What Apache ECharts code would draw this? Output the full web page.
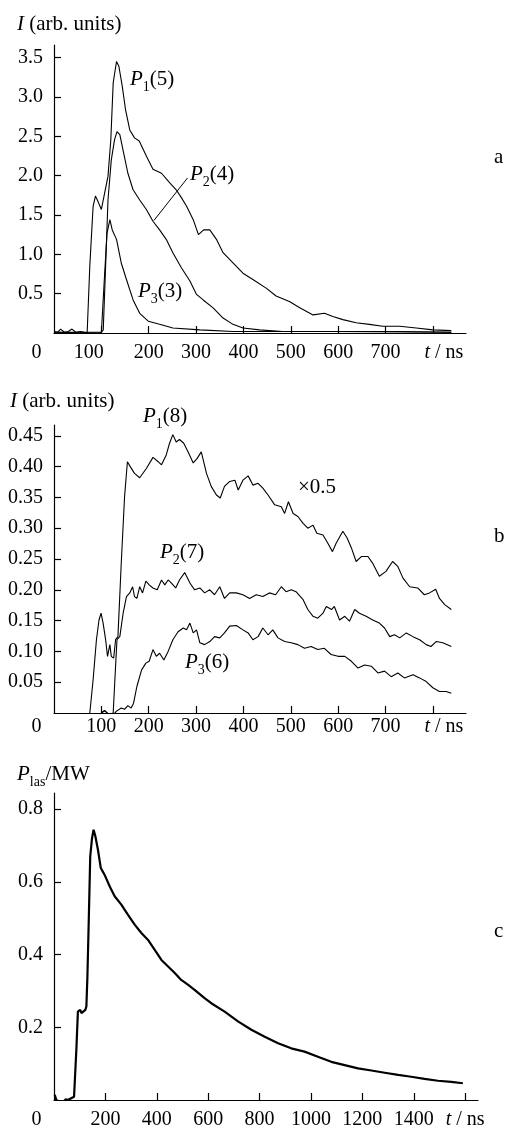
<!DOCTYPE html>
<html>
<head>
<meta charset="utf-8">
<script src="https://cdn.jsdelivr.net/npm/echarts@6/dist/echarts.min.js"></script>
<style>
  html, body { margin: 0; padding: 0; background: #fff; }
  #chart { width: 506px; height: 1132px; }
</style>
</head>
<body>
<div id="chart"></div>
<script>
'use strict';

// panel a: [t (ns), I (arb. units)]
var p1A = [[0, 0.02], [8, 0.01], [14, 0.05], [22, 0.01], [30, 0.02], [38, 0.05], [46, 0.01], [56, 0.02], [64, 0.01], [70, 0.0],
    [75.6, 0.85], [82.6, 1.61], [87.5, 1.74], [93, 1.67], [100, 1.57], [107, 1.78], [114, 1.99], [120, 2.46], [125, 3.18],
    [132, 3.45], [137, 3.39], [144, 3.14], [151, 2.84], [160, 2.58], [170, 2.48], [180, 2.44], [195, 2.25], [209, 2.08],
    [227, 2.03], [244, 1.91], [258, 1.82], [269, 1.72], [280, 1.61], [294, 1.44], [305, 1.25], [316, 1.31], [329, 1.31],
    [343, 1.19], [357, 1.02], [378, 0.89], [399, 0.76], [420, 0.68], [448, 0.57], [469, 0.47], [497, 0.40], [519, 0.32],
    [547, 0.23], [571, 0.25], [589, 0.21], [610, 0.17], [638, 0.13], [666, 0.11], [694, 0.085], [730, 0.085], [765, 0.064],
    [800, 0.04], [839, 0.03]];
var p2A = [[0, 0.01], [50, 0.01], [100, 0.01], [104, 0.04], [109, 0.85], [114, 1.69], [121, 2.2], [128, 2.46], [133, 2.56],
    [139, 2.52], [147, 2.29], [156, 2.03], [167, 1.82], [181, 1.69], [195, 1.57], [209, 1.42], [223, 1.31], [237, 1.19],
    [251, 1.02], [269, 0.83], [287, 0.66], [301, 0.49], [315, 0.42], [336, 0.32], [357, 0.19], [378, 0.11], [399, 0.064],
    [434, 0.04], [483, 0.02], [589, 0.02], [730, 0.02], [839, 0.01]];
var p3A = [[0, 0.01], [100, 0.0], [107, 0.76], [112, 1.27], [118, 1.44], [123, 1.31], [132, 1.19], [142, 0.89], [153, 0.68],
    [167, 0.42], [181, 0.25], [199, 0.15], [223, 0.11], [251, 0.064], [308, 0.04], [378, 0.02], [448, 0.02], [589, 0.02],
    [839, 0.01]];
var leaderA = [[211, 1.43], [282, 1.97]];

// panel b
var p1B = [[75.6, 0], [82.6, 0.054], [89.6, 0.119], [95, 0.151], [99.4, 0.162], [103.7, 0.146], [109, 0.119], [113, 0.092],
    [118, 0.111], [121, 0.092], [126, 0.089], [130, 0.119], [135, 0.124], [142, 0.243], [149, 0.351], [155, 0.408],
    [161, 0.40], [170, 0.389], [181, 0.382], [195, 0.397], [209, 0.415], [220, 0.408], [227, 0.403], [237, 0.419],
    [244, 0.438], [251, 0.452], [258, 0.44], [265, 0.444], [274, 0.438], [283, 0.424], [294, 0.406], [302, 0.413],
    [311, 0.424], [322, 0.389], [332, 0.368], [343, 0.354], [351, 0.349], [360, 0.368], [371, 0.376], [382, 0.378],
    [389, 0.362], [399, 0.378], [410, 0.385], [420, 0.370], [431, 0.373], [441, 0.365], [452, 0.354], [466, 0.338],
    [480, 0.335], [487, 0.324], [495, 0.343], [505, 0.324], [515, 0.319], [526, 0.308], [536, 0.30], [547, 0.305],
    [555, 0.292], [568, 0.289], [578, 0.276], [588, 0.262], [596, 0.276], [610, 0.295], [619, 0.284], [628, 0.268],
    [638, 0.246], [649, 0.254], [663, 0.254], [673, 0.243], [687, 0.222], [701, 0.23], [715, 0.246], [726, 0.238],
    [737, 0.219], [751, 0.205], [768, 0.203], [782, 0.192], [793, 0.195], [806, 0.201], [814, 0.186], [825, 0.176],
    [839, 0.168]];
var p2B = [[100, 0.0], [107, 0.004], [115, -0.002], [125, 0], [130, 0.076], [133, 0.119], [139, 0.124], [146, 0.162],
    [153, 0.189], [160, 0.195], [166, 0.205], [170, 0.189], [175, 0.186], [181, 0.205], [187, 0.195], [194, 0.214],
    [201, 0.208], [209, 0.203], [218, 0.20], [227, 0.216], [234, 0.208], [241, 0.216], [248, 0.211], [257, 0.203],
    [265, 0.216], [276, 0.228], [287, 0.211], [297, 0.20], [308, 0.203], [318, 0.195], [329, 0.20], [339, 0.192],
    [350, 0.205], [360, 0.186], [371, 0.195], [385, 0.195], [399, 0.192], [413, 0.186], [427, 0.192], [441, 0.189],
    [455, 0.195], [468, 0.192], [480, 0.205], [490, 0.197], [501, 0.20], [511, 0.197], [526, 0.184], [536, 0.168],
    [547, 0.157], [557, 0.154], [568, 0.162], [575, 0.173], [586, 0.168], [592, 0.173], [603, 0.151], [614, 0.157],
    [624, 0.149], [635, 0.168], [645, 0.162], [659, 0.157], [673, 0.151], [687, 0.146], [698, 0.138], [709, 0.124],
    [719, 0.127], [730, 0.122], [744, 0.13], [758, 0.124], [772, 0.119], [786, 0.111], [796, 0.108], [807, 0.116],
    [821, 0.114], [839, 0.108]];
var p3B = [[100, 0.0], [107, 0.004], [115, -0.002], [125, -0.003], [132, 0.003], [142, 0.008], [149, 0.006], [156, 0.012],
    [163, 0.008], [168, 0.016], [175, 0.043], [185, 0.07], [194, 0.081], [201, 0.084], [209, 0.103], [216, 0.092],
    [223, 0.097], [232, 0.086], [241, 0.10], [251, 0.119], [262, 0.132], [273, 0.138], [280, 0.135], [287, 0.146],
    [294, 0.13], [301, 0.135], [308, 0.114], [318, 0.111], [329, 0.116], [339, 0.124], [350, 0.122], [360, 0.13],
    [371, 0.141], [385, 0.142], [399, 0.135], [410, 0.13], [420, 0.119], [431, 0.124], [441, 0.138], [452, 0.127],
    [462, 0.135], [473, 0.122], [487, 0.116], [501, 0.114], [515, 0.111], [529, 0.105], [543, 0.108], [557, 0.103],
    [571, 0.105], [585, 0.095], [600, 0.092], [614, 0.092], [628, 0.084], [642, 0.073], [656, 0.078], [670, 0.076],
    [684, 0.065], [698, 0.068], [712, 0.059], [726, 0.065], [740, 0.057], [758, 0.062], [772, 0.057], [786, 0.051],
    [800, 0.041], [814, 0.035], [828, 0.035], [839, 0.032]];

// panel c: [t (ns), P_las (MW)]
var pLas = [[3, 0.014], [9, 0], [20, -0.004], [35, -0.008], [45, 0.002], [54, 0], [67, 0.005], [78, 0.009], [87, 0.138],
    [93, 0.243], [102, 0.248], [107, 0.239], [113, 0.234], [122, 0.248], [126, 0.257], [130, 0.339], [135, 0.486],
    [141, 0.67], [148, 0.72], [154, 0.743], [161, 0.725], [171, 0.688], [182, 0.638], [197, 0.619], [217, 0.587],
    [236, 0.56], [262, 0.537], [288, 0.509], [314, 0.482], [340, 0.459], [366, 0.44], [392, 0.413], [418, 0.385],
    [444, 0.367], [470, 0.349], [495, 0.33], [521, 0.317], [547, 0.303], [586, 0.28], [612, 0.266], [664, 0.243],
    [716, 0.216], [768, 0.193], [820, 0.174], [872, 0.156], [923, 0.142], [975, 0.133], [1027, 0.119], [1079, 0.105],
    [1131, 0.096], [1183, 0.087], [1235, 0.081], [1287, 0.075], [1339, 0.069], [1390, 0.064], [1442, 0.058],
    [1494, 0.053], [1546, 0.05], [1591, 0.046]];

// ticks
var xTicksAB = [100, 200, 300, 400, 500, 600, 700, 800];
var xLabelsAB = [0, 100, 200, 300, 400, 500, 600, 700, 800];
var yTicksA = [0.5, 1.0, 1.5, 2.0, 2.5, 3.0, 3.5];
var yTicksB = [0.05, 0.10, 0.15, 0.20, 0.25, 0.30, 0.35, 0.40, 0.45];
var xTicksC = [200, 400, 600, 800, 1000, 1200, 1400, 1600];
var xLabelsC = [0, 200, 400, 600, 800, 1000, 1200, 1400, 1600];
var yTicksC = [0.2, 0.4, 0.6, 0.8];

var FONT = '"Liberation Serif", "DejaVu Serif", serif';
var chart = echarts.init(document.getElementById('chart'), null, { renderer: 'canvas' });

function tok(size, extra) {
    var s = { fontFamily: FONT, fontSize: size, color: '#000' };
    for (var k in extra) s[k] = extra[k];
    return s;
}

var tickRich = {
    n: tok(20, {}),
    it: tok(20, { fontStyle: 'italic' }),
    o: tok(20, { padding: [0, 35, 0, 0] }),
    h: tok(20, { padding: [0, 25, 0, 0] }),
    ui: tok(20, { fontStyle: 'italic', padding: [0, 0, 0, 22] })
};

function xAxisOf(idx, max, ticks, labels, margin, fmt) {
    return {
        type: 'value', gridIndex: idx, min: 0, max: max,
        axisLine: { lineStyle: { color: '#000', width: 1.2 } },
        axisTick: { inside: true, length: 7, customValues: ticks, lineStyle: { color: '#000', width: 1.2 } },
        axisLabel: { customValues: labels, margin: margin, formatter: fmt, rich: tickRich, fontFamily: FONT, fontSize: 20, color: '#000' },
        splitLine: { show: false }
    };
}
function yAxisOf(idx, max, ticks, fmt) {
    return {
        type: 'value', gridIndex: idx, min: 0, max: max,
        axisLine: { show: true, lineStyle: { color: '#000', width: 1.2 } },
        axisTick: { show: true, inside: true, length: 7, customValues: ticks, lineStyle: { color: '#000', width: 1.2 } },
        axisLabel: { customValues: ticks, margin: 11, formatter: fmt, fontFamily: FONT, fontSize: 20, color: '#000' },
        splitLine: { show: false }
    };
}

function fmtA(v) {
    if (v === 0) return '{o|0}';
    if (v === 100) return '{h|100}';
    if (v === 800) return '{ui|t}{n| / ns}';
    return '{n|' + v + '}';
}
function fmtB(v) {
    if (v === 0) return '{o|0}';
    if (v === 800) return '{ui|t}{n| / ns}';
    return '{n|' + v + '}';
}
function fmtC(v) {
    if (v === 0) return '{o|0}';
    if (v === 1600) return '{it|t}{n| / ns}';
    return '{n|' + v + '}';
}

function line(idx, data, width, extra) {
    var s = {
        type: 'line', xAxisIndex: idx, yAxisIndex: idx, data: data, showSymbol: false, symbol: 'none',
        lineStyle: { color: '#000', width: width }, animation: false, z: 3
    };
    for (var k in extra) s[k] = extra[k];
    return s;
}

var labRich = {
    p: tok(21, { fontStyle: 'italic', verticalAlign: 'top', lineHeight: 22 }),
    s: tok(14, { verticalAlign: 'top', lineHeight: 14, padding: [11, 0, 0, 0] }),
    n: tok(21, { verticalAlign: 'top', lineHeight: 22 })
};
function label(x, y, txt) {
    return {
        type: 'text', x: x, y: y, z: 10,
        style: { text: txt, rich: labRich, fontFamily: FONT, fontSize: 21, fill: '#000', align: 'left', verticalAlign: 'middle' }
    };
}

chart.setOption({
    backgroundColor: '#fff',
    animation: false,
    grid: [
        { left: 54, top: 45, width: 412, height: 288, containLabel: false, outerBoundsMode: 'none' },
        { left: 54, top: 425, width: 412, height: 288, containLabel: false, outerBoundsMode: 'none' },
        { left: 54, top: 793, width: 424, height: 307, containLabel: false, outerBoundsMode: 'none' }
    ],
    xAxis: [
        xAxisOf(0, 870, xTicksAB, xLabelsAB, 10, fmtA),
        xAxisOf(1, 870, xTicksAB, xLabelsAB, 4, fmtB),
        xAxisOf(2, 1650, xTicksC, xLabelsC, 10, fmtC)
    ],
    yAxis: [
        yAxisOf(0, 3.66, yTicksA, function (v) { return v.toFixed(1); }),
        yAxisOf(1, 0.4676, yTicksB, function (v) { return v.toFixed(2); }),
        yAxisOf(2, 0.844, yTicksC, function (v) { return String(v); })
    ],
    series: [
        line(0, p1A, 1.1, {}),
        line(0, p2A, 1.1, {
            markLine: {
                silent: true, symbol: 'none', label: { show: false }, animation: false,
                lineStyle: { color: '#000', width: 1, type: 'solid' },
                data: [[{ coord: leaderA[0] }, { coord: leaderA[1] }]]
            }
        }),
        line(0, p3A, 1.1, {}),
        line(1, p1B, 1.1, {}),
        line(1, p2B, 1.1, {}),
        line(1, p3B, 1.1, {}),
        line(2, pLas, 2.2, {})
    ],
    graphic: [
        label(17, 25, '{p|I}{n| (arb. units)}'),
        label(130, 80, '{p|P}{s|1}{n|(5)}'),
        label(190, 175, '{p|P}{s|2}{n|(4)}'),
        label(138, 292, '{p|P}{s|3}{n|(3)}'),
        label(494, 158, '{n|a}'),
        label(10, 402, '{p|I}{n| (arb. units)}'),
        label(143, 417, '{p|P}{s|1}{n|(8)}'),
        label(298, 488, '{n|×0.5}'),
        label(160, 553, '{p|P}{s|2}{n|(7)}'),
        label(185, 663, '{p|P}{s|3}{n|(6)}'),
        label(494, 537, '{n|b}'),
        label(17, 775, '{p|P}{s|las}{n|/MW}'),
        label(494, 932, '{n|c}')
    ]
});
</script>
</body>
</html>
